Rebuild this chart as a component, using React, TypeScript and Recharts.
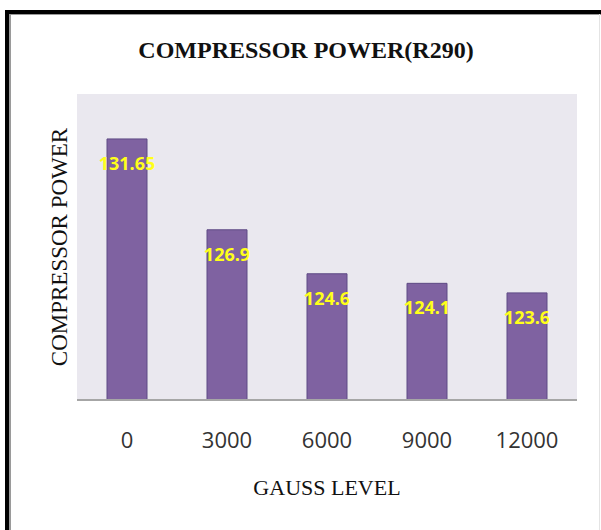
import React from "react";
import { BarChart, Bar, XAxis, YAxis, CartesianGrid, LabelList, Label } from "recharts";

const gaussLevels = ["0", "3000", "6000", "9000", "12000"];
const compressorPower = [131.65, 126.9, 124.6, 124.1, 123.6];

const data = gaussLevels.map((g, i) => ({ gauss: g, power: compressorPower[i] }));

const serif = "'Liberation Serif', 'Times New Roman', serif";
const sans = "'Open Sans', Calibri, sans-serif";

const BarValue = (props: any) => {
  const { x, y, width, value } = props;
  return (
    <text
      x={Number(x) + Number(width) / 2}
      y={Number(y) + 31}
      textAnchor="middle"
      fill="#ffff1a"
      fontFamily={sans}
      fontWeight={700}
      fontSize={18}
    >
      {value}
    </text>
  );
};

export default function App() {
  return (
    <div
      style={{
        position: "absolute",
        left: 0,
        top: 0,
        width: 601,
        height: 530,
        background: "#fff",
        overflow: "hidden",
      }}
    >
      <BarChart
        width={601}
        height={530}
        data={data}
        margin={{ top: 94, right: 24, left: 77, bottom: 0 }}
        barCategoryGap="30%"
      >
        <CartesianGrid fill="#eae8ef" stroke="none" horizontal={false} vertical={false} />
        <YAxis hide domain={[118, 134]} />
        <XAxis
          dataKey="gauss"
          height={130}
          tickSize={0}
          tickMargin={32}
          axisLine={{ stroke: "#a6a6a6", strokeWidth: 2 }}
          tick={{ fontSize: 22, fill: "#333", fontFamily: sans }}
        >
          <Label
            value="GAUSS LEVEL"
            position="insideBottom"
            offset={35}
            fill="#111"
            fontSize={22}
            fontFamily={serif}
          />
        </XAxis>
        <Bar
          dataKey="power"
          fill="#7f62a1"
          stroke="#5e4a85"
          strokeWidth={1}
          isAnimationActive={false}
        >
          <LabelList dataKey="power" content={<BarValue />} />
        </Bar>
      </BarChart>
      <svg
        width={601}
        height={530}
        style={{ position: "absolute", left: 0, top: 0, pointerEvents: "none" }}
      >
        <rect x={5} y={10} width={596} height={4} fill="#000" />
        <rect x={5} y={10} width={4} height={520} fill="#000" />
        <rect x={9} y={14} width={2} height={516} fill="#9a9a9a" />
        <rect x={9} y={14} width={592} height={1} fill="#9a9a9a" />
        <rect x={599} y={14} width={1} height={516} fill="#e4e4e4" />
        <text
          x={306}
          y={58}
          textAnchor="middle"
          fontFamily={serif}
          fontWeight={700}
          fontSize={24}
          fill="#111"
        >
          COMPRESSOR POWER(R290)
        </text>
        <text
          x={67}
          y={247}
          transform="rotate(-90, 67, 247)"
          textAnchor="middle"
          fontFamily={serif}
          fontSize={23}
          fill="#111"
        >
          COMPRESSOR POWER
        </text>
      </svg>
    </div>
  );
}
